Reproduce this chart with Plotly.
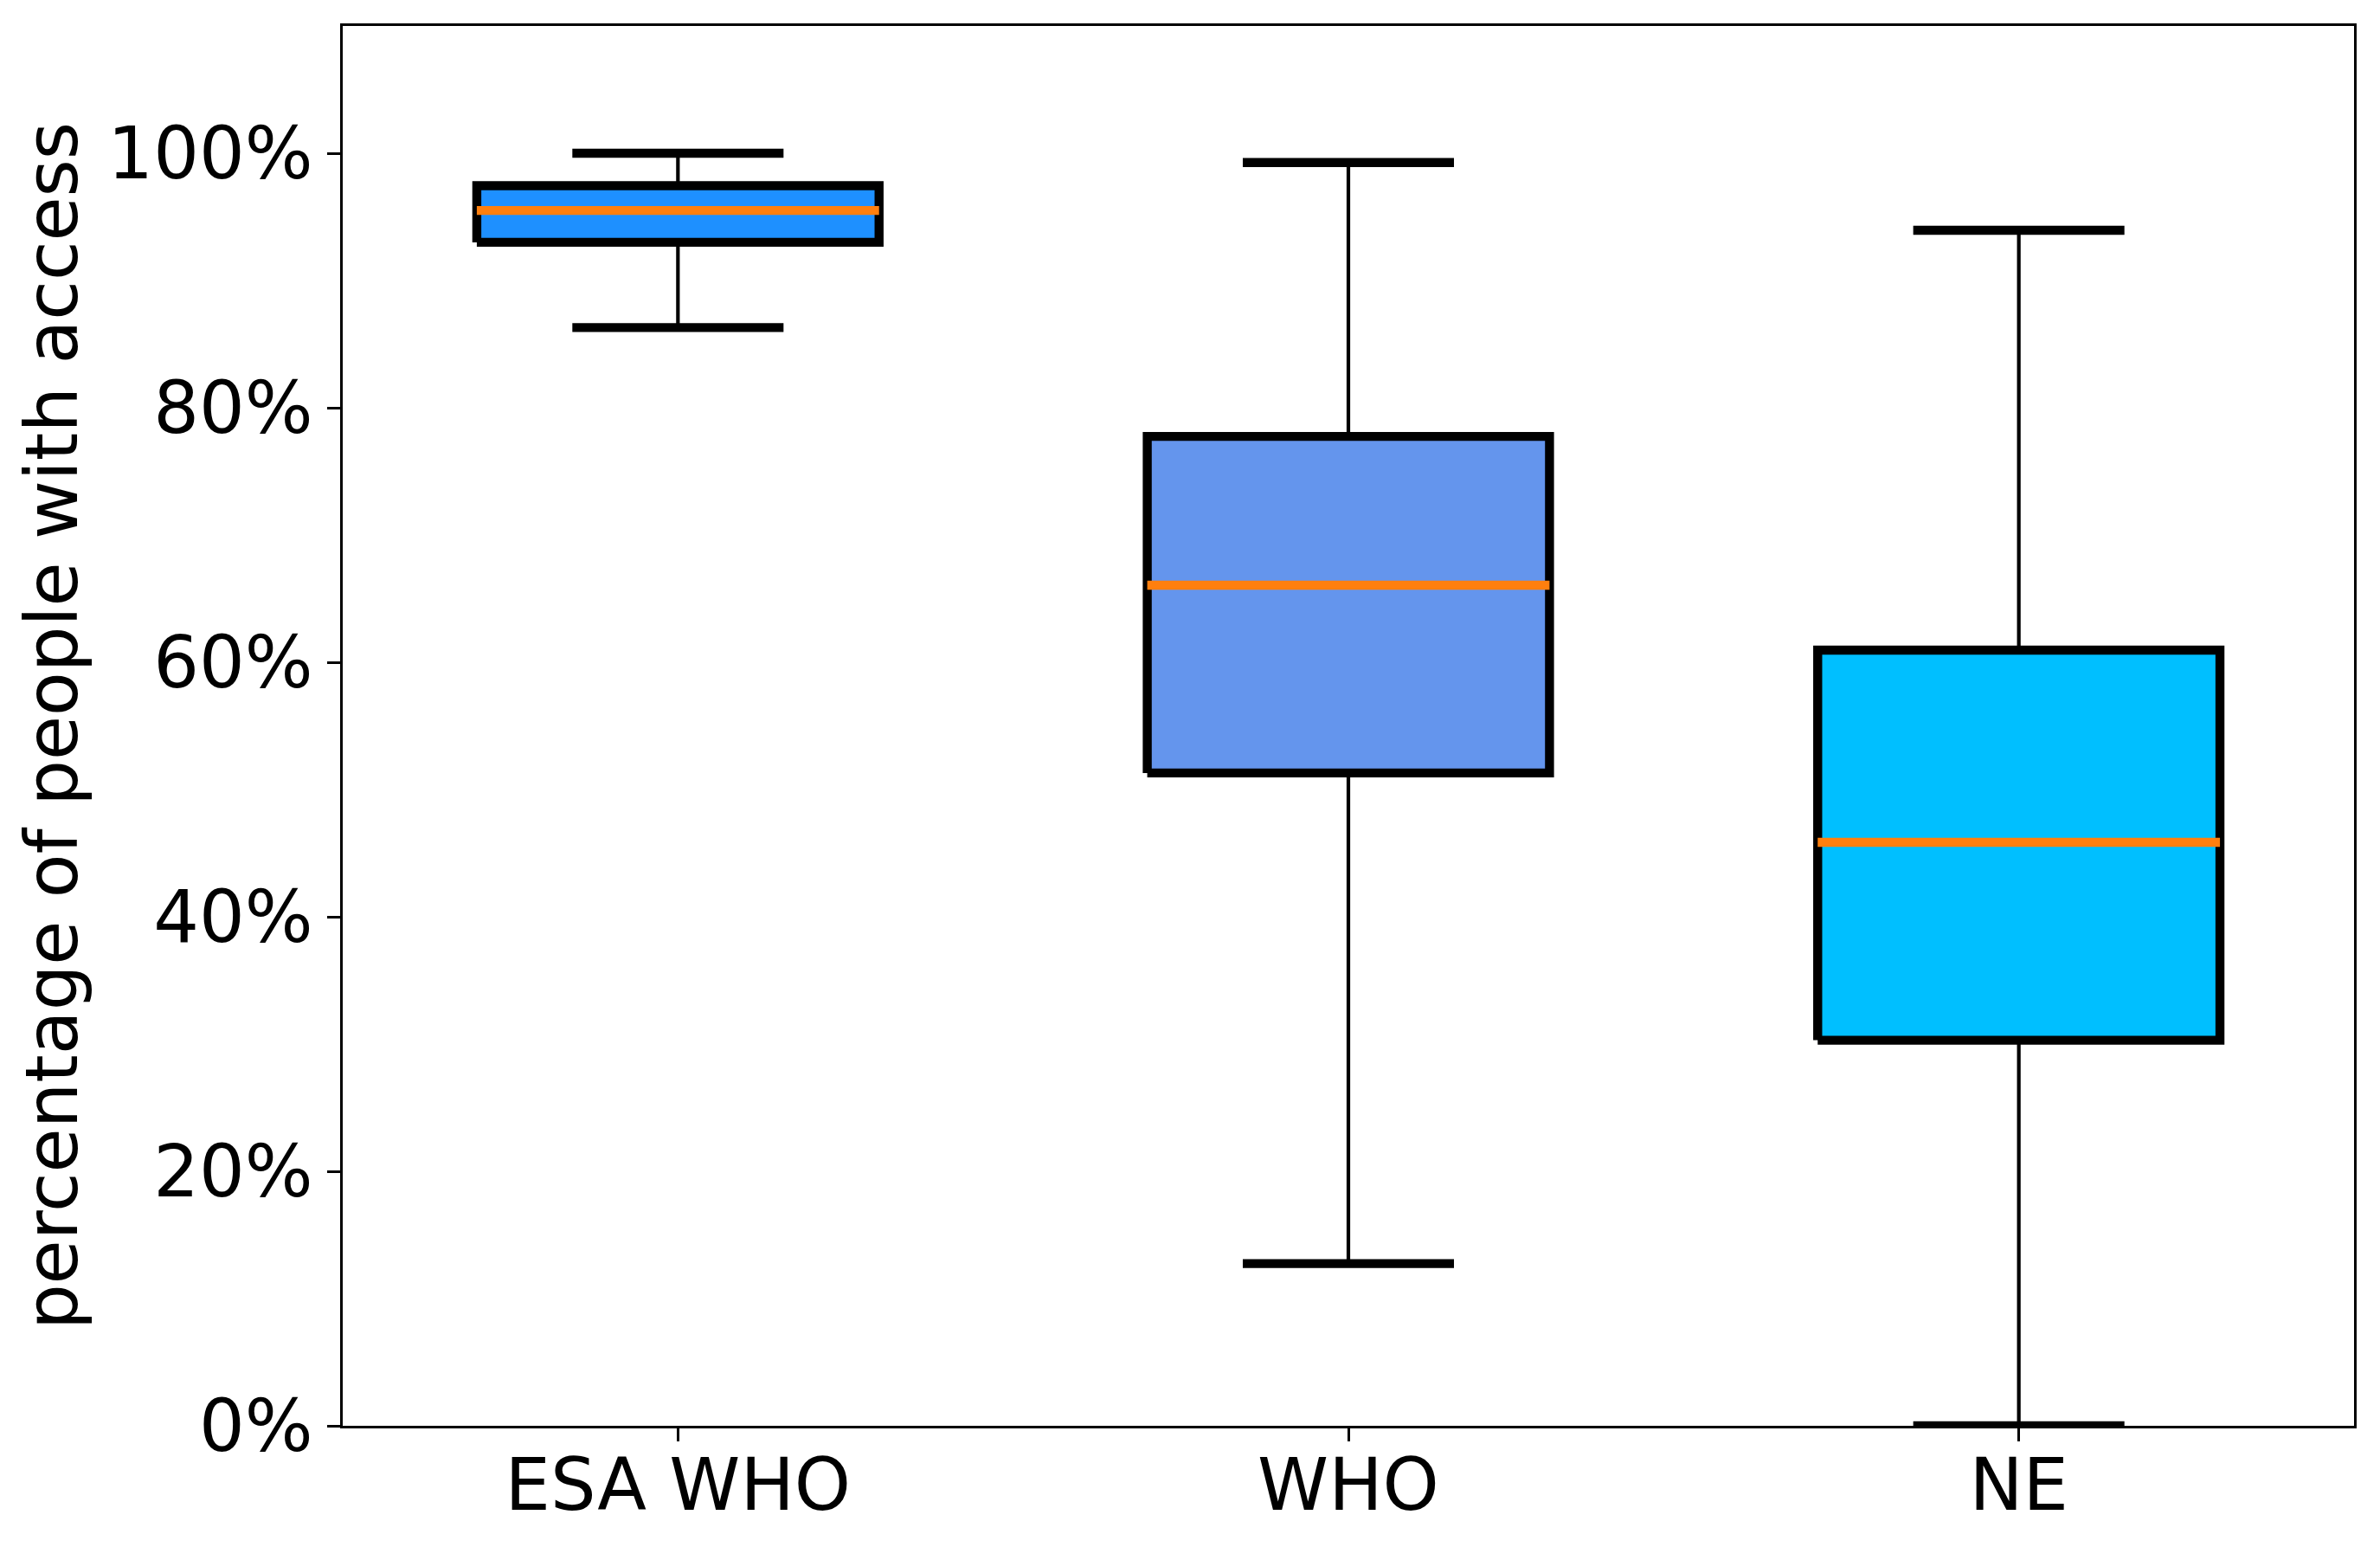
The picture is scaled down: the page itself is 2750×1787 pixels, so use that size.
import plotly.graph_objects as go

# ---- data ----
categories = ["ESA WHO", "WHO", "NE"]
lower_whisker = [86.3, 12.75, 0.0]
q1 = [93.0, 51.3, 30.3]
median = [95.5, 66.05, 45.85]
q3 = [97.45, 77.75, 60.95]
upper_whisker = [100.0, 99.27, 93.95]
box_colors = ["#1E90FF", "#6495ED", "#00BFFF"]
y_tick_vals = [0, 20, 40, 60, 80, 100]
y_tick_text = ["0%", "20%", "40%", "60%", "80%", "100%"]

# ---- styling ----
BOX_W = 0.6
CAP_W = 0.315
LW_BOX = 10.4
LW_WHISK = 4.2
LW_CAP = 10.4
LW_MED = 10.4
MEDIAN_COLOR = "#FF7F0E"
FONT = "DejaVu Sans"
FS = 83

fig = go.Figure()
positions = list(range(1, len(categories) + 1))

for p, lo, a, m, b, hi, col in zip(positions, lower_whisker, q1, median, q3,
                                      upper_whisker, box_colors):
    # whiskers
    fig.add_trace(go.Scatter(x=[p, p, None, p, p], y=[b, hi, None, a, lo],
                             mode="lines", line=dict(color="black", width=LW_WHISK),
                             showlegend=False, hoverinfo="skip"))
    # box
    fig.add_trace(go.Scatter(x=[p - BOX_W / 2, p + BOX_W / 2, p + BOX_W / 2, p - BOX_W / 2, p - BOX_W / 2],
                             y=[a, a, b, b, a], mode="lines", fill="toself", fillcolor=col,
                             line=dict(color="black", width=LW_BOX),
                             showlegend=False, hoverinfo="skip"))
    # median
    fig.add_trace(go.Scatter(x=[p - BOX_W / 2, p + BOX_W / 2], y=[m, m], mode="lines",
                             line=dict(color=MEDIAN_COLOR, width=LW_MED),
                             showlegend=False, hoverinfo="skip"))
    # caps
    fig.add_trace(go.Scatter(x=[p - CAP_W / 2, p + CAP_W / 2, None, p - CAP_W / 2, p + CAP_W / 2],
                             y=[hi, hi, None, lo, lo], mode="lines",
                             line=dict(color="black", width=LW_CAP),
                             showlegend=False, hoverinfo="skip"))

# page body has an 8px margin: compensate so the plot lands where the reference has it
fig.update_layout(
    width=2734, height=1771,
    margin=dict(l=388, r=22, t=22, b=132),
    paper_bgcolor="white", plot_bgcolor="white",
    font=dict(family=FONT, size=FS, color="black"),
    showlegend=False,
)
fig.update_xaxes(
    range=[0.5, len(categories) + 0.5],
    tickmode="array", tickvals=positions, ticktext=categories,
    showgrid=False, zeroline=False,
    showline=True, linecolor="black", linewidth=3.3, mirror=True,
    ticks="outside", ticklen=14.6, tickwidth=3.3, tickcolor="black",
    ticklabelstandoff=-20,
    tickfont=dict(family=FONT, size=FS, color="black"),
)
fig.update_yaxes(
    range=[0, 110],
    tickmode="array", tickvals=y_tick_vals, ticktext=y_tick_text,
    showgrid=False, zeroline=False,
    showline=True, linecolor="black", linewidth=3.3, mirror=True,
    ticks="outside", ticklen=14.6, tickwidth=3.3, tickcolor="black",
    tickfont=dict(family=FONT, size=FS, color="black"),
    title=dict(text="percentage of people with access", font=dict(family=FONT, size=FS, color="black"),
               standoff=8),
)

fig.write_html("out.html")
